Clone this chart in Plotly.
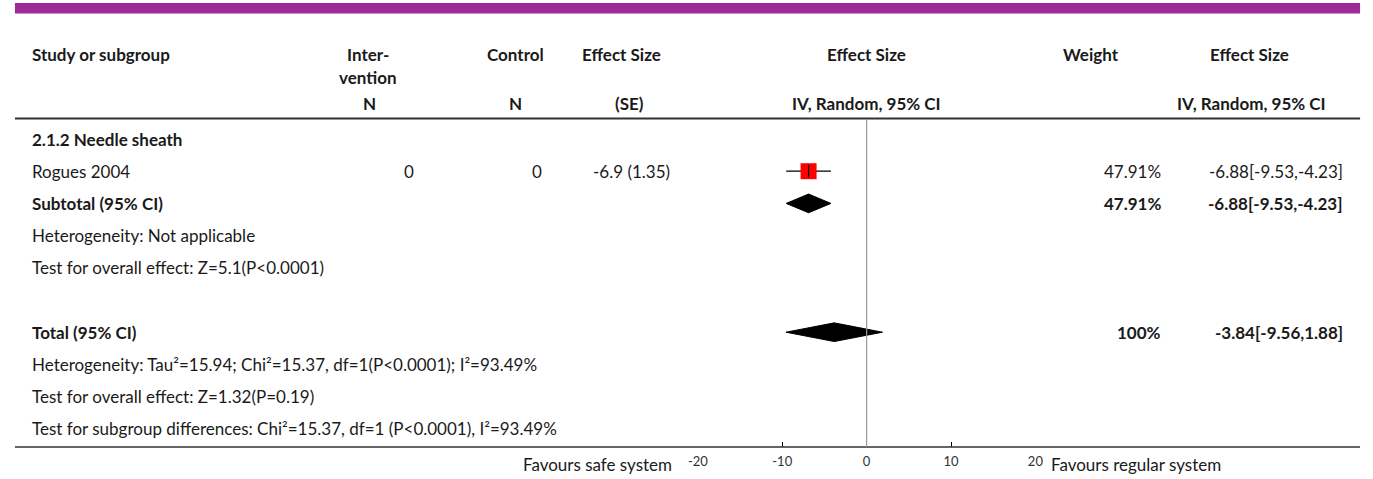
import plotly.graph_objects as go

W, H = 1373, 479
FONT = "Lato"
TXT = "#1a1a1a"
FS = 17

# ---- data ----
studies = ["Rogues 2004"]
n_int = [0]
n_ctl = [0]
es_text = ["-6.9 (1.35)"]
study_est = [-6.88]
study_lo = [-9.53]
study_hi = [-4.23]
study_weight = ["47.91%"]

sub_est, sub_lo, sub_hi, sub_weight = -6.88, -9.53, -4.23, "47.91%"
tot_est, tot_lo, tot_hi, tot_weight = -3.84, -9.56, 1.88, "100%"

tick_vals = [-20, -10, 0, 10, 20]
tick_text = ["-20", "-10", "0", "10", "20"]

group_label = "2.1.2 Needle sheath"
sub_het = "Heterogeneity: Not applicable"
sub_test = "Test for overall effect: Z=5.1(P<0.0001)"
tot_het = "Heterogeneity: Tau²=15.94; Chi²=15.37, df=1(P<0.0001); I²=93.49%"
tot_test = "Test for overall effect: Z=1.32(P=0.19)"
sub_diff = "Test for subgroup differences: Chi²=15.37, df=1 (P<0.0001), I²=93.49%"
fav_left = "Favours safe system"
fav_right = "Favours regular system"

# row indices
R_GROUP, R_STUDY, R_SUB, R_SUBHET, R_SUBTEST = 0, 1, 2, 3, 4
R_TOT, R_TOTHET, R_TOTTEST, R_DIFF = 6, 7, 8, 9
ROW_PX = 32.2

def px(x):
    return x / W

def py(y):
    return 1 - y / H

fig = go.Figure()

for i, s in enumerate(studies):
    r = R_STUDY + i
    fig.add_trace(go.Scatter(x=[study_lo[i], study_hi[i]], y=[r, r], mode="lines",
                             line=dict(color="black", width=1.2), hoverinfo="skip", showlegend=False))
    fig.add_trace(go.Scatter(x=[study_est[i]], y=[r], mode="markers",
                             marker=dict(symbol="square", size=16, color="#ff0000", line=dict(width=0)),
                             showlegend=False))
    fig.add_trace(go.Scatter(x=[study_est[i]], y=[r], mode="markers",
                             marker=dict(symbol="line-ns", size=9, line=dict(color="black", width=1.2)),
                             showlegend=False))

def diamond(est, lo, hi, r, h=0.29):
    fig.add_trace(go.Scatter(x=[lo, est, hi, est, lo], y=[r, r - h, r, r + h, r], mode="lines",
                             fill="toself", fillcolor="black", line=dict(color="black", width=1),
                             hoverinfo="skip", showlegend=False))

diamond(sub_est, sub_lo, sub_hi, R_SUB)
diamond(tot_est, tot_lo, tot_hi, R_TOT)

ann = []

def text(x, y, s, bold=False, anchor="left", yref="y", size=FS):
    ann.append(dict(x=px(x), xref="paper", y=y, yref=yref, text=f"<b>{s}</b>" if bold else s,
                    showarrow=False, xanchor=anchor, yanchor="middle", borderpad=0,
                    font=dict(family=FONT, size=size, color=TXT)))

# headers
text(21, py(55), "Study or subgroup", True, "left", "paper")
text(363, py(55), "Inter-", True, "center", "paper")
text(363, py(77), "vention", True, "center", "paper")
text(512, py(55), "Control", True, "center", "paper")
text(620, py(55), "Effect Size", True, "center", "paper")
text(868, py(55), "Effect Size", True, "center", "paper")
text(1095, py(55), "Weight", True, "center", "paper")
text(1256, py(55), "Effect Size", True, "center", "paper")
text(364, py(103), "N", True, "center", "paper")
text(512, py(103), "N", True, "center", "paper")
text(628, py(103), "(SE)", True, "center", "paper")
text(868, py(103), "IV, Random, 95% CI", True, "center", "paper")
text(1258, py(103), "IV, Random, 95% CI", True, "center", "paper")

# body
text(21, R_GROUP, group_label, True)
for i, s in enumerate(studies):
    r = R_STUDY + i
    text(21, r, s)
    text(410, r, str(n_int[i]), anchor="right")
    text(540, r, str(n_ctl[i]), anchor="right")
    text(670, r, es_text[i], anchor="right")
    text(1167, r, study_weight[i], anchor="right")
    text(1352, r, f"{study_est[i]:.2f}[{study_lo[i]:.2f},{study_hi[i]:.2f}]", anchor="right")

text(21, R_SUB, "Subtotal (95% CI)", True)
text(1167, R_SUB, sub_weight, True, "right")
text(1352, R_SUB, f"{sub_est:.2f}[{sub_lo:.2f},{sub_hi:.2f}]", True, "right")
text(21, R_SUBHET, sub_het)
text(21, R_SUBTEST, sub_test)
text(21, R_TOT, "Total (95% CI)", True)
text(1167, R_TOT, tot_weight, True, "right")
text(1352, R_TOT, f"{tot_est:.2f}[{tot_lo:.2f},{tot_hi:.2f}]", True, "right")
text(21, R_TOTHET, tot_het)
text(21, R_TOTTEST, tot_test)
text(21, R_DIFF, sub_diff)

text(672, py(464), fav_left, anchor="right", yref="paper")
text(1054, py(464), fav_right, anchor="left", yref="paper")

shapes = [
    dict(type="rect", xref="paper", yref="paper", x0=px(5), x1=px(1368), y0=py(13.5), y1=py(3),
         fillcolor="#9e2a96", line=dict(width=0)),
    dict(type="line", xref="paper", yref="paper", x0=px(5), x1=px(1368), y0=py(118.5), y1=py(118.5),
         line=dict(color="#333333", width=2)),
    dict(type="line", xref="paper", yref="paper", x0=px(5), x1=px(1368), y0=py(447), y1=py(447),
         line=dict(color="#333333", width=1.5)),
    dict(type="line", xref="x", yref="paper", x0=0, x1=0, y0=py(120), y1=py(447),
         line=dict(color="#999999", width=1.2)),
]

fig.update_layout(
    width=W, height=H, margin=dict(l=0, r=0, t=0, b=0),
    paper_bgcolor="white", plot_bgcolor="rgba(0,0,0,0)",
    annotations=ann, shapes=shapes, showlegend=False,
    xaxis=dict(domain=[px(697), px(1039)], range=[-20, 20], tickvals=tick_vals, ticktext=tick_text,
               ticks="inside", ticklen=5, tickwidth=1, tickcolor="black", showgrid=False, zeroline=False,
               showline=False, tickfont=dict(family=FONT, size=13, color="#333333"), ticklabelstandoff=5,
               fixedrange=True),
    yaxis=dict(domain=[1 - 447 / H, 1], range=[(447 - 139) / ROW_PX, -139 / ROW_PX], visible=False,
               fixedrange=True),
)

fig.write_html("out.html")
